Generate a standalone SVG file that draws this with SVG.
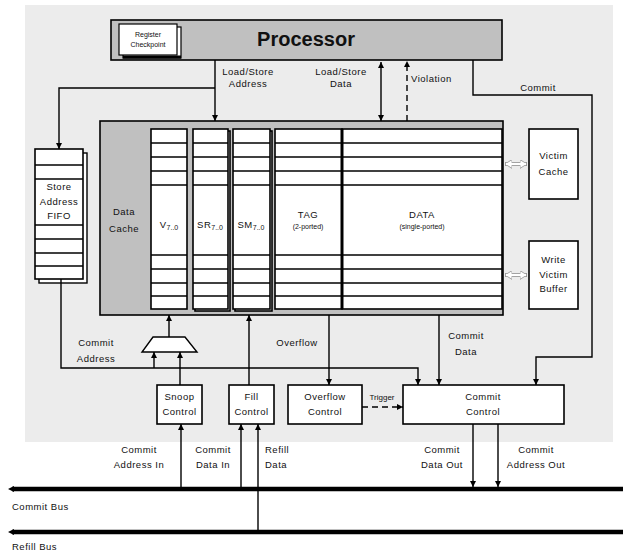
<svg xmlns="http://www.w3.org/2000/svg" width="623" height="552" viewBox="0 0 623 552">
<defs>
<marker id="ah" viewBox="0 0 8 8" refX="8" refY="4" markerWidth="6" markerHeight="6" orient="auto-start-reverse" markerUnits="userSpaceOnUse">
<path d="M0,0 L8,4 L0,8 z" fill="#000"/>
</marker>
<marker id="hol" viewBox="0 0 8 10" refX="8" refY="5" markerWidth="7" markerHeight="9" orient="auto-start-reverse" markerUnits="userSpaceOnUse">
<path d="M0,0 L8,5 L0,10 z" fill="#fff" stroke="#999" stroke-width="1"/>
</marker>
</defs>
<style>
.t{font-family:"Liberation Sans",Arial,sans-serif;font-size:9.5px;fill:#111;text-anchor:middle;letter-spacing:0.5px}
.s{font-size:7px;letter-spacing:0}
.b{fill:#fff;stroke:#000;stroke-width:1.6}
.g{fill:#c0c0c0;stroke:#000;stroke-width:1.6}
.c{fill:none;stroke:#000;stroke-width:1.4}
.a{marker-end:url(#ah)}
.d{stroke-dasharray:6,4}
.row{stroke:#000;stroke-width:1.3}
.bus{stroke:#000;stroke-width:4.5;fill:none}
</style>
<rect x="0" y="0" width="623" height="552" fill="#fff"/>
<rect x="25" y="5" width="588" height="437" fill="#ececec"/>

<g id="processor">
<rect class="g" x="111" y="20" width="391" height="40"/>
<text class="t" x="306" y="46" style="font-size:20px;font-weight:bold;letter-spacing:0">Processor</text>
</g>
<g id="register-checkpoint">
<rect x="123" y="27" width="58" height="31" fill="#fff" stroke="#000" stroke-width="1.2"/>
<line x1="123" y1="57" x2="181" y2="57" stroke="#000" stroke-width="3"/>
<rect x="119" y="24" width="58" height="31" fill="#fff" stroke="#000" stroke-width="1.2"/>
<text class="t s" x="148" y="37">Register</text>
<text class="t s" x="148" y="47">Checkpoint</text>
</g>

<g id="store-address-fifo">
<rect x="39" y="153" width="48" height="130" fill="#fff" stroke="#000" stroke-width="1.4"/>
<rect class="b" x="35" y="149" width="48" height="130"/>
<g class="row">
<line x1="35" y1="165" x2="83" y2="165"/>
<line x1="35" y1="179" x2="83" y2="179"/>
<line x1="35" y1="225" x2="83" y2="225"/>
<line x1="35" y1="239" x2="83" y2="239"/>
<line x1="35" y1="253" x2="83" y2="253"/>
<line x1="35" y1="266" x2="83" y2="266"/>
</g>
<text class="t" x="59" y="190">Store</text>
<text class="t" x="59" y="205">Address</text>
<text class="t" x="59" y="219">FIFO</text>
</g>

<g id="data-cache">
<rect class="g" x="100" y="121" width="403" height="194"/>
<text class="t" x="124" y="215">Data</text>
<text class="t" x="124" y="232">Cache</text>
</g>

<g id="col-v">
<rect class="b" x="151" y="129" width="36" height="180"/>
<g class="row">
<line x1="151" y1="143" x2="187" y2="143"/><line x1="151" y1="157" x2="187" y2="157"/><line x1="151" y1="171" x2="187" y2="171"/><line x1="151" y1="185" x2="187" y2="185"/>
<line x1="151" y1="255" x2="187" y2="255"/><line x1="151" y1="269" x2="187" y2="269"/><line x1="151" y1="283" x2="187" y2="283"/><line x1="151" y1="296" x2="187" y2="296"/>
</g>
<text class="t" x="169" y="228">V<tspan class="s" dy="2">7..0</tspan></text>
</g>

<g id="col-sr">
<rect x="195" y="131" width="35" height="180" fill="#fff" stroke="#000" stroke-width="1.6"/>
<rect class="b" x="193" y="129" width="35" height="180"/>
<g class="row">
<line x1="193" y1="143" x2="228" y2="143"/><line x1="193" y1="157" x2="228" y2="157"/><line x1="193" y1="171" x2="228" y2="171"/><line x1="193" y1="185" x2="228" y2="185"/>
<line x1="193" y1="255" x2="228" y2="255"/><line x1="193" y1="269" x2="228" y2="269"/><line x1="193" y1="283" x2="228" y2="283"/><line x1="193" y1="296" x2="228" y2="296"/>
</g>
<text class="t" x="210" y="228">SR<tspan class="s" dy="2">7..0</tspan></text>
</g>

<g id="col-sm">
<rect x="235" y="131" width="37" height="180" fill="#fff" stroke="#000" stroke-width="1.6"/>
<rect class="b" x="233" y="129" width="37" height="180"/>
<g class="row">
<line x1="233" y1="143" x2="270" y2="143"/><line x1="233" y1="157" x2="270" y2="157"/><line x1="233" y1="171" x2="270" y2="171"/><line x1="233" y1="185" x2="270" y2="185"/>
<line x1="233" y1="255" x2="270" y2="255"/><line x1="233" y1="269" x2="270" y2="269"/><line x1="233" y1="283" x2="270" y2="283"/><line x1="233" y1="296" x2="270" y2="296"/>
</g>
<text class="t" x="251" y="228">SM<tspan class="s" dy="2">7..0</tspan></text>
</g>

<g id="col-tag">
<rect class="b" x="275" y="129" width="67" height="180"/>
<g class="row">
<line x1="275" y1="143" x2="342" y2="143"/><line x1="275" y1="157" x2="342" y2="157"/><line x1="275" y1="171" x2="342" y2="171"/><line x1="275" y1="185" x2="342" y2="185"/>
<line x1="275" y1="255" x2="342" y2="255"/><line x1="275" y1="269" x2="342" y2="269"/><line x1="275" y1="283" x2="342" y2="283"/><line x1="275" y1="296" x2="342" y2="296"/>
</g>
<text class="t" x="308" y="218">TAG</text>
<text class="t s" x="308" y="229">(2-ported)</text>
</g>

<g id="col-data">
<rect class="b" x="342" y="129" width="160" height="180"/>
<line x1="342" y1="129" x2="342" y2="309" stroke="#000" stroke-width="3"/>
<g class="row">
<line x1="342" y1="143" x2="502" y2="143"/><line x1="342" y1="157" x2="502" y2="157"/><line x1="342" y1="171" x2="502" y2="171"/><line x1="342" y1="185" x2="502" y2="185"/>
<line x1="342" y1="255" x2="502" y2="255"/><line x1="342" y1="269" x2="502" y2="269"/><line x1="342" y1="283" x2="502" y2="283"/><line x1="342" y1="296" x2="502" y2="296"/>
</g>
<text class="t" x="422" y="218">DATA</text>
<text class="t s" x="422" y="229">(single-ported)</text>
</g>

<g id="victim-cache">
<rect class="b" x="529" y="129" width="49" height="70"/>
<text class="t" x="553.5" y="159">Victim</text>
<text class="t" x="553.5" y="175">Cache</text>
</g>
<g id="write-victim-buffer">
<rect class="b" x="529" y="241" width="49" height="68"/>
<text class="t" x="553.5" y="263">Write</text>
<text class="t" x="553.5" y="278">Victim</text>
<text class="t" x="553.5" y="292">Buffer</text>
</g>

<g id="mux">
<path d="M153,337 L185,337 L197,352 L142,352 Z" fill="#fff" stroke="#000" stroke-width="1.4"/>
</g>
<g id="snoop-control">
<rect class="b" x="157" y="385" width="45" height="39"/>
<text class="t" x="179.5" y="400">Snoop</text>
<text class="t" x="179.5" y="415">Control</text>
</g>
<g id="fill-control">
<rect class="b" x="229" y="385" width="45" height="39"/>
<text class="t" x="251.5" y="400">Fill</text>
<text class="t" x="251.5" y="415">Control</text>
</g>
<g id="overflow-control">
<rect class="b" x="288" y="385" width="74" height="39"/>
<text class="t" x="325" y="400">Overflow</text>
<text class="t" x="325" y="415">Control</text>
</g>
<g id="commit-control">
<rect class="b" x="403" y="385" width="161" height="39"/>
<text class="t" x="483" y="400">Commit</text>
<text class="t" x="483" y="415">Control</text>
</g>

<g id="buses">
<path class="bus" d="M12,489 L623,489"/>
<path d="M8,489 L14,486 L14,492 Z" fill="#000"/>
<path class="bus" d="M12,532 L623,532"/>
<path d="M8,532 L14,529 L14,535 Z" fill="#000"/>
<text class="t" x="12" y="510" style="text-anchor:start">Commit Bus</text>
<text class="t" x="12" y="550" style="text-anchor:start">Refill Bus</text>
</g>

<g id="connectors">
<path class="c a" d="M215,60 L215,121"/>
<path class="c a" d="M215,88 L59,88 L59,149"/>
<line class="c a" x1="381" y1="62" x2="381" y2="121" style="marker-start:url(#ah)"/>
<line class="c a d" x1="407" y1="121" x2="407" y2="61"/>
<path class="c a" d="M473,60 L473,95 L592,95 L592,357 L536,357 L536,385"/>
<path class="c a" d="M61,279 L61,368 L418,368 L418,385"/>
<path class="c a" d="M154,368 L154,352"/>
<path class="c a" d="M169,337 L169,315"/>
<path class="c a" d="M180,385 L180,352"/>
<path class="c a" d="M249,385 L249,315"/>
<path class="c a" d="M329,315 L329,385"/>
<path class="c a" d="M439,315 L439,385"/>
<path class="c a d" d="M362,407 L403,407"/>
<line x1="505" y1="164" x2="527" y2="164" stroke="#999" stroke-width="4" marker-start="url(#hol)" marker-end="url(#hol)"/>
<line x1="506" y1="164" x2="526" y2="164" stroke="#fff" stroke-width="2.2"/>
<line x1="505" y1="275" x2="527" y2="275" stroke="#999" stroke-width="4" marker-start="url(#hol)" marker-end="url(#hol)"/>
<line x1="506" y1="275" x2="526" y2="275" stroke="#fff" stroke-width="2.2"/>
<path class="c a" d="M181,487 L181,424"/>
<path class="c a" d="M241,487 L241,424"/>
<path class="c a" d="M258,530 L258,424"/>
<path class="c a" d="M473,424 L473,487"/>
<path class="c a" d="M498,424 L498,487"/>
</g>

<g id="labels">
<text class="t" x="248" y="75">Load/Store</text>
<text class="t" x="248" y="87">Address</text>
<text class="t" x="341" y="75">Load/Store</text>
<text class="t" x="341" y="87">Data</text>
<text class="t" x="411" y="82" style="text-anchor:start">Violation</text>
<text class="t" x="538" y="91">Commit</text>
<text class="t" x="96" y="346">Commit</text>
<text class="t" x="96" y="362">Address</text>
<text class="t" x="297" y="346">Overflow</text>
<text class="t" x="466" y="339">Commit</text>
<text class="t" x="466" y="355">Data</text>
<text class="t s" x="382" y="400" style="font-size:8px">Trigger</text>
<text class="t" x="139" y="453">Commit</text>
<text class="t" x="139" y="468">Address In</text>
<text class="t" x="213" y="453">Commit</text>
<text class="t" x="213" y="468">Data In</text>
<text class="t" x="265" y="453" style="text-anchor:start">Refill</text>
<text class="t" x="265" y="468" style="text-anchor:start">Data</text>
<text class="t" x="442" y="453">Commit</text>
<text class="t" x="442" y="468">Data Out</text>
<text class="t" x="536" y="453">Commit</text>
<text class="t" x="536" y="468">Address Out</text>
</g>
</svg>
